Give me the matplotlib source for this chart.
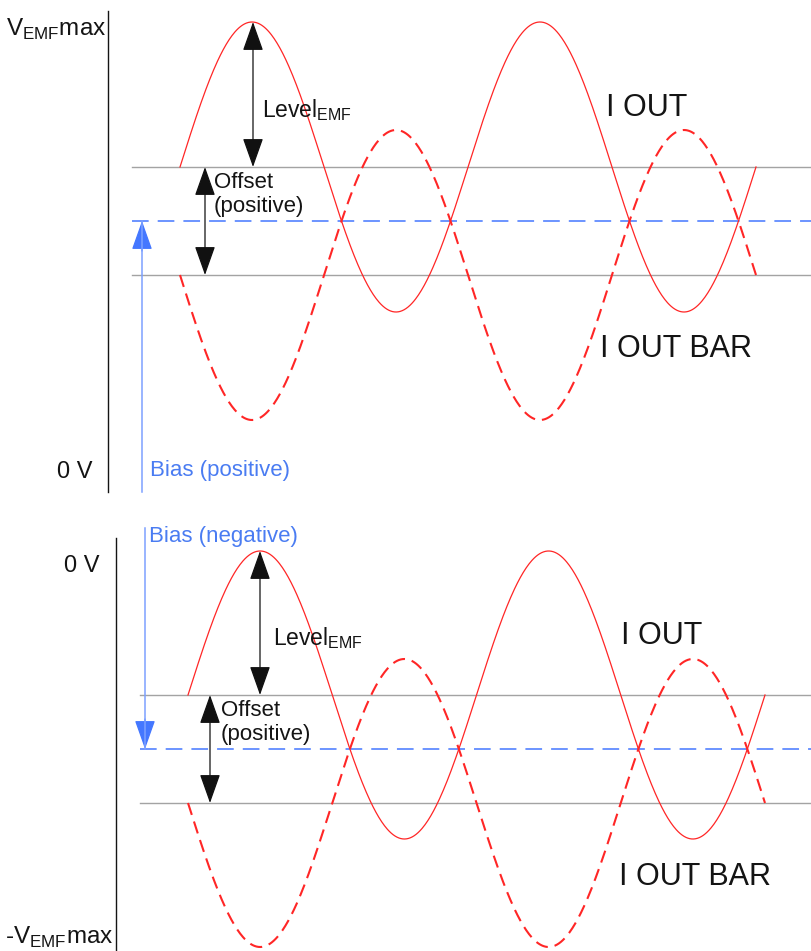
"""Bias / offset / level diagram for the I OUT and I OUT BAR signals."""
import numpy as np
import matplotlib
matplotlib.use("Agg")
import matplotlib.pyplot as plt
from matplotlib.patches import FancyArrowPatch, ArrowStyle

plt.rcParams["font.family"] = ["Liberation Sans", "DejaVu Sans"]
plt.rcParams["mathtext.fontset"] = "custom"
plt.rcParams["mathtext.rm"] = "Liberation Sans"
plt.rcParams["lines.scale_dashes"] = False

# two panels: positive bias (top) and negative bias (bottom)
# levels are in drawing units (y grows downwards)
bias_labels = ["Bias (positive)", "Bias (negative)"]
axis_top_labels = [r"V$_{\mathrm{EMF}}$max", "0 V"]
axis_bottom_labels = ["0 V", r"-V$_{\mathrm{EMF}}$max"]
bias_level = [221, 749]
upper_level = [167, 695]     # bias + offset
lower_level = [275, 803]     # bias - offset
level_emf = [145, 144]
wave_start = [180, 188]
period = [288, 288.5]
n_periods = 2

RED = "#ff2626"
BLUE = "#4477ff"
BLUE_TEXT = "#4a7cf2"
GRAY = "#a3a3a3"
INK = "#141414"


def double_arrow(ax, x, y0, y1, color="#111111"):
    style = ArrowStyle("<|-|>", head_length=18.3, head_width=6.5)
    ax.add_patch(FancyArrowPatch((x, y0), (x, y1), arrowstyle=style,
                                 mutation_scale=1, color=color, lw=0.9,
                                 shrinkA=0, shrinkB=0))


def single_arrow(ax, x, y0, y1, color):
    style = ArrowStyle("-|>", head_length=18.3, head_width=6.5)
    ax.add_patch(FancyArrowPatch((x, y0), (x, y1), arrowstyle=style,
                                 mutation_scale=1, color=color, lw=0.9,
                                 shrinkA=0, shrinkB=0))


def draw_panel(ax, i, axis_x, axis_span, bias_x, bias_span, gray_x0,
               level_x, offset_x, texts):
    phase = np.linspace(0, 2 * np.pi * n_periods, 600)
    x = wave_start[i] + phase / (2 * np.pi) * period[i]
    i_out = upper_level[i] - level_emf[i] * np.sin(phase)
    i_out_bar = lower_level[i] + level_emf[i] * np.sin(phase)

    # reference levels
    for lvl in (upper_level[i], lower_level[i]):
        ax.plot([gray_x0, 812], [lvl, lvl], color=GRAY, lw=1.0)
    ax.plot([gray_x0, 812], [bias_level[i], bias_level[i]], color=BLUE,
            lw=1.1, dashes=(12, 6.5))

    ax.plot(x, i_out, color=RED, lw=0.9)
    ax.plot(x, i_out_bar, color=RED, lw=1.5, dashes=(9, 5))

    # voltage axis
    ax.plot([axis_x, axis_x], axis_span, color=INK, lw=1.0)

    # bias arrow: light shaft, solid head at the bias level
    ax.plot([bias_x, bias_x], [bias_span[0], bias_span[1]], color="#7da1ff", lw=1.1)
    direction = np.sign(bias_span[1] - bias_span[0])
    single_arrow(ax, bias_x, bias_level[i] - direction * 30, bias_level[i], BLUE)

    # level and offset arrows
    peak = upper_level[i] - level_emf[i]
    double_arrow(ax, level_x, peak, upper_level[i])
    double_arrow(ax, offset_x, upper_level[i], lower_level[i])

    for (tx, ty, s, size, color, ha) in texts:
        ax.text(tx, ty, s, fontsize=size, color=color, ha=ha, va="baseline")


fig = plt.figure(figsize=(8.12, 9.51), dpi=100)
ax = fig.add_axes([0, 0, 1, 1])
ax.set_xlim(0, 812)
ax.set_ylim(951, 0)
ax.axis("off")

draw_panel(ax, 0, axis_x=108, axis_span=[11, 492], bias_x=142,
           bias_span=[492, bias_level[0]], gray_x0=132,
           level_x=253, offset_x=205,
           texts=[(106, 36, axis_top_labels[0], 17.5, INK, "right"),
                  (93, 478, axis_top_labels[1], 17, INK, "right"),
                  (150, 476, bias_labels[0], 16, BLUE_TEXT, "left"),
                  (262, 117, r"Level$_{\mathrm{EMF}}$", 16.5, INK, "left"),
                  (214, 188, "Offset", 16, INK, "left"),
                  (214, 212, "(positive)", 16, INK, "left"),
                  (606, 116, "I OUT", 22, INK, "left"),
                  (600, 357, "I OUT BAR", 22, INK, "left")])

draw_panel(ax, 1, axis_x=116, axis_span=[538, 951], bias_x=145,
           bias_span=[528, bias_level[1]], gray_x0=140,
           level_x=260, offset_x=210,
           texts=[(100, 572, axis_bottom_labels[0], 17, INK, "right"),
                  (114, 944, axis_bottom_labels[1], 17.5, INK, "right"),
                  (149, 542, bias_labels[1], 16, BLUE_TEXT, "left"),
                  (273, 645, r"Level$_{\mathrm{EMF}}$", 16.5, INK, "left"),
                  (221, 716, "Offset", 16, INK, "left"),
                  (221, 740, "(positive)", 16, INK, "left"),
                  (621, 644, "I OUT", 22, INK, "left"),
                  (619, 885, "I OUT BAR", 22, INK, "left")])

fig.savefig("out.png", dpi=100)
